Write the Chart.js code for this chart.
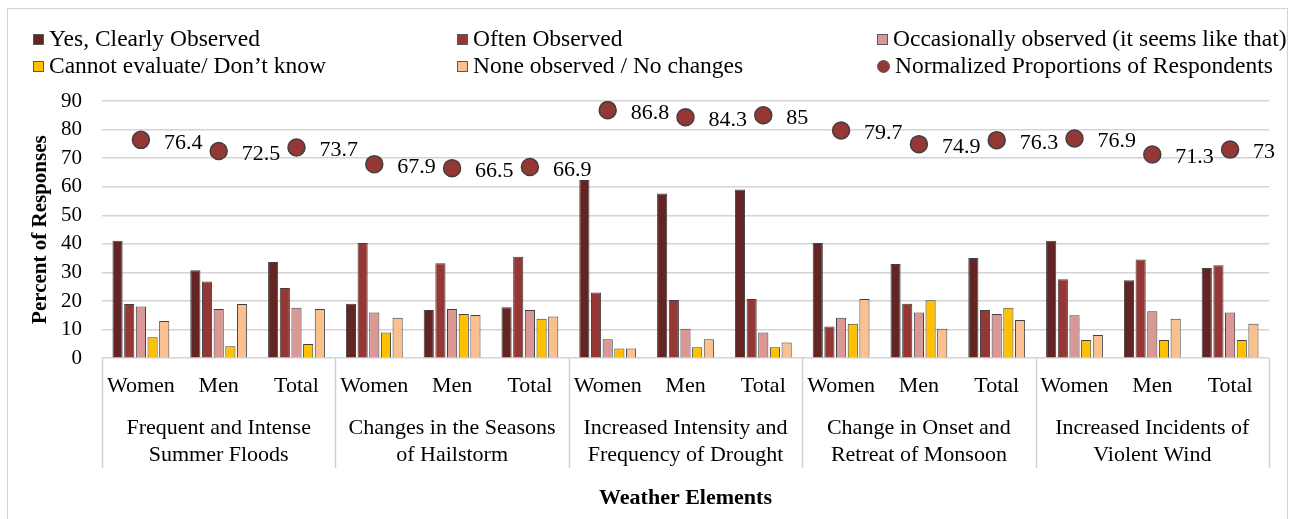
<!DOCTYPE html>
<html>
<head>
<meta charset="utf-8">
<script src="https://cdn.jsdelivr.net/npm/chart.js@4.4.1/dist/chart.umd.min.js"></script>
<style>
  html, body { margin: 0; padding: 0; background: #fff; overflow: hidden; }
  #wrap { position: relative; width: 1302px; height: 519px; }
  #frame { position: absolute; left: 7px; top: 8px; width: 1281px; height: 600px; border: 1px solid #d4d4d4; box-sizing: border-box; }
  #chart { position: absolute; left: 0; top: 0; }
  .legend-item { position: absolute; height: 27px; line-height: 27px; font: 23.5px "Liberation Serif", "Times New Roman", serif; color: #000; white-space: nowrap; }
  .legend-item .sw { display: inline-block; width: 11px; height: 11px; border: 1px solid #595959; box-sizing: border-box; margin-right: 5px; vertical-align: 1px; }
  .legend-item .sw.dot { width: 13px; height: 13px; border-radius: 50%; vertical-align: 0; }
</style>
</head>
<body>
<div id="wrap">
  <div id="frame"></div>
  <canvas id="chart" width="1302" height="519"></canvas>
  <div id="legend"></div>
</div>
<script>
const serif = '"Liberation Serif", "Times New Roman", serif';

// categories
const subLabels = ["Women", "Men", "Total"];
const groupNames = [
  ["Frequent and Intense", "Summer Floods"],
  ["Changes in the Seasons", "of Hailstorm"],
  ["Increased Intensity and", "Frequency of Drought"],
  ["Change in Onset and", "Retreat of Monsoon"],
  ["Increased Incidents of", "Violent Wind"]
];

// series values (Women, Men, Total per group)
const clearlyObserved = [41.1, 30.8, 33.7, 19.1, 16.9, 17.8, 62.4, 57.6, 59.0, 40.3, 33.0, 35.1, 41.1, 27.3, 31.6];
const oftenObserved   = [19.0, 26.8, 24.6, 40.3, 33.2, 35.5, 23.0, 20.4, 20.7, 11.1, 19.1, 16.9, 27.6, 34.5, 32.5];
const occasionally    = [18.1, 17.2, 17.7, 16.0, 17.2, 16.9, 6.6, 10.3, 9.0, 14.2, 16.0, 15.5, 15.0, 16.4, 16.0];
const cannotEvaluate  = [7.3, 4.2, 5.0, 9.0, 15.5, 13.8, 3.4, 3.8, 3.8, 12.1, 20.3, 17.7, 6.4, 6.4, 6.4];
const noneObserved    = [13.0, 19.0, 17.2, 14.2, 15.1, 14.6, 3.4, 6.6, 5.5, 20.7, 10.3, 13.4, 8.1, 13.8, 12.1];
const normalized      = [76.4, 72.5, 73.7, 67.9, 66.5, 66.9, 86.8, 84.3, 85, 79.7, 74.9, 76.3, 76.9, 71.3, 73];

const yTicks = [0, 10, 20, 30, 40, 50, 60, 70, 80, 90];

const labels = [];
groupNames.forEach(() => subLabels.forEach((s) => labels.push(s)));

const barStyle = (label, data, color) => ({
  label: label,
  data: data,
  backgroundColor: color,
  borderColor: "#404040",
  borderWidth: 1,
  categoryPercentage: 0.75,
  barPercentage: 0.87,
  order: 1
});

const datasets = [
  barStyle("Yes, Clearly Observed", clearlyObserved, "#632523"),
  barStyle("Often Observed", oftenObserved, "#953735"),
  barStyle("Occasionally observed (it seems like that)", occasionally, "#d99795"),
  barStyle("Cannot evaluate/  Don\u2019t know", cannotEvaluate, "#ffc000"),
  barStyle("None observed / No changes", noneObserved, "#fac090"),
  {
    type: "line",
    label: "Normalized Proportions of Respondents",
    data: normalized,
    showLine: false,
    pointRadius: 8.5,
    pointHoverRadius: 8.5,
    pointBackgroundColor: "#953735",
    pointBorderColor: "#404040",
    pointBorderWidth: 1.5,
    order: 0
  }
];

// legend in three columns, like the original
const legendSpots = [
  [33, 25], [457, 25], [877, 25],
  [33, 52], [457, 52], [877, 52]
];
const legendBox = document.getElementById("legend");
datasets.forEach((ds, i) => {
  const item = document.createElement("div");
  item.className = "legend-item";
  item.style.left = legendSpots[i][0] + "px";
  item.style.top = legendSpots[i][1] + "px";
  const sw = document.createElement("span");
  sw.className = ds.type === "line" ? "sw dot" : "sw";
  sw.style.background = ds.type === "line" ? ds.pointBackgroundColor : ds.backgroundColor;
  item.appendChild(sw);
  item.appendChild(document.createTextNode(ds.label));
  legendBox.appendChild(item);
});

// value labels to the right of the points
const pointLabels = {
  id: "pointLabels",
  afterDatasetsDraw(chart) {
    const meta = chart.getDatasetMeta(5);
    const ctx = chart.ctx;
    ctx.save();
    ctx.font = "22px " + serif;
    ctx.fillStyle = "#000";
    ctx.textAlign = "left";
    ctx.textBaseline = "middle";
    meta.data.forEach((pt, i) => ctx.fillText(String(normalized[i]), pt.x + 23, pt.y + 3));
    ctx.restore();
  }
};

// vertical separators between the weather element groups
const groupLines = {
  id: "groupLines",
  afterDraw(chart) {
    const x = chart.scales.x;
    const area = chart.chartArea;
    const ctx = chart.ctx;
    const xs = [area.left];
    for (let g = 1; g < groupNames.length; g++) {
      const i = g * subLabels.length;
      xs.push((x.getPixelForValue(i - 1) + x.getPixelForValue(i)) / 2);
    }
    xs.push(area.right);
    ctx.save();
    ctx.strokeStyle = "#d0d0d0";
    ctx.lineWidth = 1.5;
    xs.forEach((px) => {
      ctx.beginPath();
      ctx.moveTo(Math.round(px) + 0.5, area.bottom);
      ctx.lineTo(Math.round(px) + 0.5, 468);
      ctx.stroke();
    });
    ctx.restore();
  }
};

new Chart(document.getElementById("chart"), {
  type: "bar",
  data: { labels: labels, datasets: datasets },
  plugins: [pointLabels, groupLines],
  options: {
    responsive: false,
    animation: false,
    events: [],
    layout: { padding: { top: 101, right: 33, bottom: 7, left: 28 } },
    plugins: {
      legend: { display: false },
      tooltip: { enabled: false }
    },
    scales: {
      x: {
        grid: { display: false, drawTicks: false },
        border: { display: false },
        ticks: {
          font: { family: serif, size: 22 },
          color: "#000",
          padding: 15,
          maxRotation: 0,
          minRotation: 0,
          autoSkip: false
        }
      },
      x2: {
        type: "category",
        position: "bottom",
        labels: groupNames,
        offset: true,
        grid: { display: false, drawTicks: false },
        border: { display: false },
        ticks: {
          font: { family: serif, size: 22, lineHeight: 1.227 },
          color: "#000",
          padding: 0,
          maxRotation: 0,
          minRotation: 0,
          autoSkip: false
        },
        title: {
          display: true,
          text: "Weather Elements",
          font: { family: serif, size: 22, weight: "bold" },
          color: "#000",
          padding: { top: 17, bottom: 0 }
        }
      },
      y: {
        min: 0,
        max: 90,
        afterBuildTicks: (axis) => { axis.ticks = yTicks.map((v) => ({ value: v })); },
        afterFit: (axis) => { axis.width = 74; },
        grid: { color: "#d4d4d4", lineWidth: 1.5, drawTicks: false },
        border: { display: false },
        ticks: {
          font: { family: serif, size: 21 },
          color: "#000",
          padding: 20
        },
        title: {
          display: true,
          text: "Percent of Responses",
          font: { family: serif, size: 21, weight: "bold" },
          color: "#000",
          padding: { top: 0, bottom: 7 }
        }
      }
    }
  }
});
</script>
</body>
</html>
